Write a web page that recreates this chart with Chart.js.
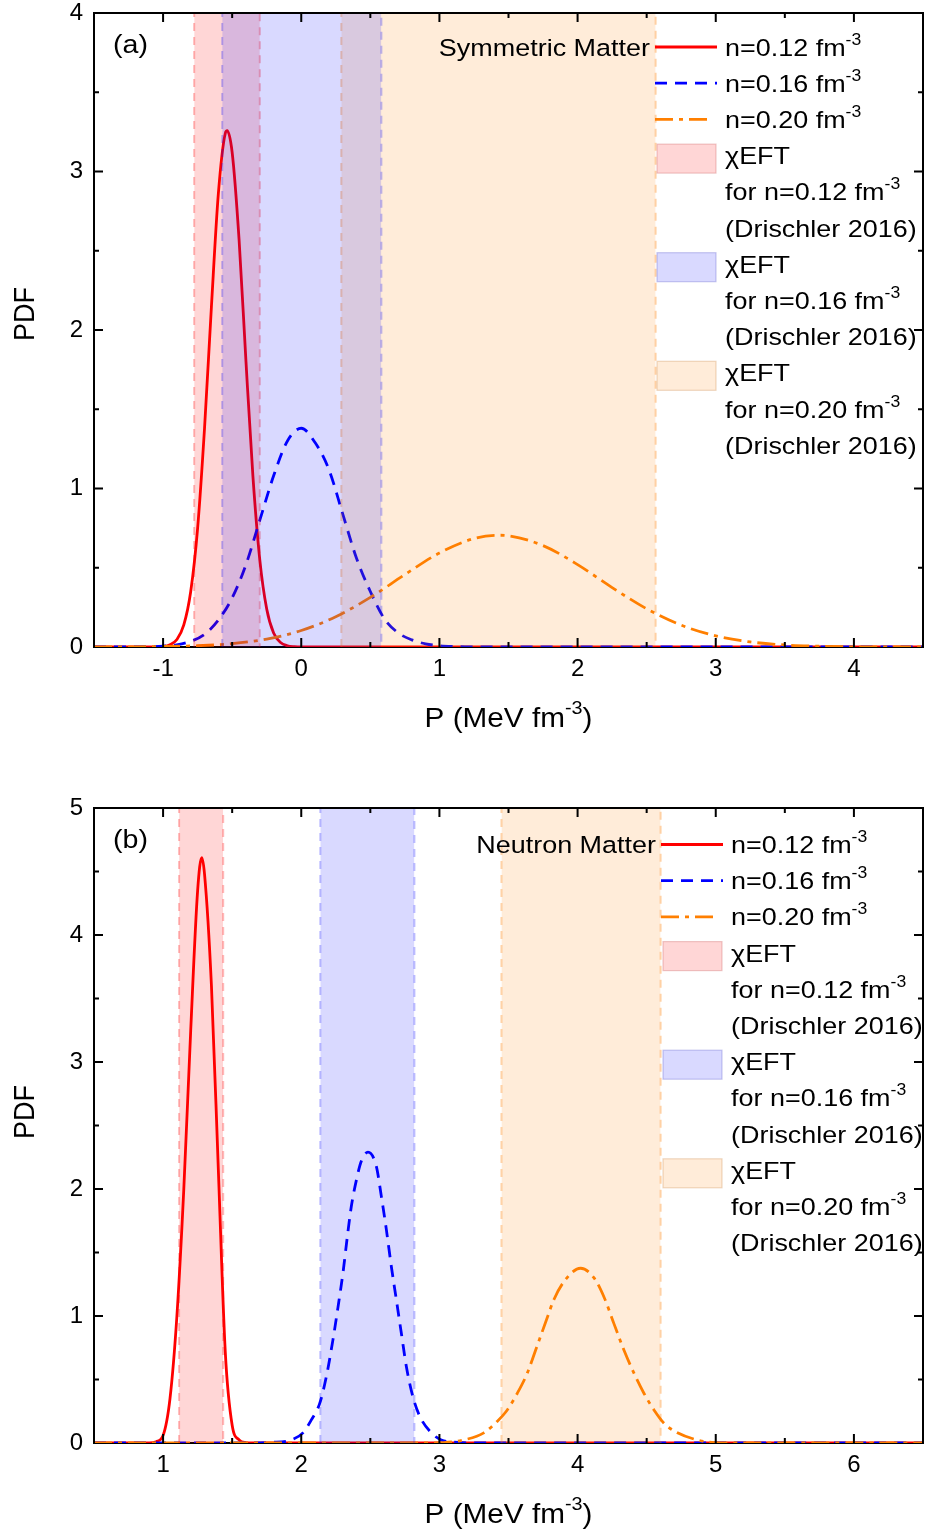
<!DOCTYPE html>
<html>
<head>
<meta charset="utf-8">
<script src="https://cdn.jsdelivr.net/npm/chart.js@4/dist/chart.umd.min.js"></script>
<style>
html,body{margin:0;padding:0;background:#fff;}
#wrap{position:relative;width:929px;height:1533px;overflow:hidden;}
canvas{position:absolute;left:0;}
</style>
</head>
<body>
<div id="wrap">
<canvas id="cA" width="929" height="766" style="top:0px"></canvas>
<canvas id="cB" width="929" height="767" style="top:766px"></canvas>
</div>
<script>
// ---------------- DATA ----------------
const densities = ['0.12', '0.16', '0.20'];

// Panel (a): symmetric matter
const xTicksA = [-1, 0, 1, 2, 3, 4];
const yTicksA = [0, 1, 2, 3, 4];
const pA_red = [-1.5, -1.1, -1.05, -1.0, -0.95, -0.9, -0.85, -0.8, -0.75, -0.7, -0.65, -0.6, -0.55, -0.536, -0.5, -0.45, -0.4, -0.35, -0.3, -0.25, -0.2, -0.15, -0.1, -0.05, 0, 1, 2, 3, 4, 4.5];
const yA_red = [0, 0, 0.001, 0.003, 0.014, 0.047, 0.139, 0.35, 0.75, 1.38, 2.15, 2.86, 3.24, 3.257, 3.12, 2.57, 1.80, 1.08, 0.55, 0.24, 0.088, 0.028, 0.008, 0.002, 0, 0, 0, 0, 0, 0];
const pA_blue = [-1.5, -1.2, -1.1, -1.0, -0.9, -0.8, -0.7, -0.6, -0.5, -0.4, -0.3, -0.2, -0.1, 0, 0.1, 0.2, 0.3, 0.4, 0.5, 0.6, 0.7, 0.8, 0.9, 1.0, 1.1, 1.2, 1.3, 2, 3, 4, 4.5];
const yA_blue = [0, 0.001, 0.002, 0.005, 0.014, 0.036, 0.08, 0.17, 0.31, 0.52, 0.80, 1.08, 1.30, 1.38, 1.29, 1.12, 0.84, 0.56, 0.35, 0.18, 0.09, 0.045, 0.02, 0.008, 0.003, 0.001, 0, 0, 0, 0, 0];
const pA_orange = [-1.5, -1.25, -1.0, -0.75, -0.5, -0.25, 0, 0.25, 0.5, 0.75, 1.0, 1.25, 1.43, 1.5, 1.75, 2.0, 2.25, 2.5, 2.75, 3.0, 3.25, 3.5, 3.75, 4.0, 4.25, 4.5];
const yA_orange = [0, 0.001, 0.003, 0.008, 0.021, 0.05, 0.104, 0.191, 0.313, 0.457, 0.593, 0.684, 0.705, 0.702, 0.640, 0.520, 0.375, 0.241, 0.138, 0.070, 0.032, 0.013, 0.005, 0.001, 0, 0];
const bandLoA = [-0.775, -0.572, 0.29];
const bandHiA = [-0.30, 0.58, 2.565];

// Panel (b): neutron matter
const xTicksB = [1, 2, 3, 4, 5, 6];
const yTicksB = [0, 1, 2, 3, 4, 5];
const pB_red = [0.5, 0.9, 0.95, 1.0, 1.05, 1.1, 1.15, 1.2, 1.25, 1.28, 1.3, 1.35, 1.4, 1.45, 1.5, 1.55, 1.6, 1.65, 6.5];
const yB_red = [0, 0, 0.01, 0.06, 0.35, 1.0, 2.0, 3.25, 4.35, 4.61, 4.48, 3.6, 2.15, 0.72, 0.14, 0.025, 0.003, 0, 0];
const pB_blue = [0.5, 1.6, 1.783, 1.927, 2.012, 2.072, 2.133, 2.181, 2.229, 2.266, 2.302, 2.333, 2.362, 2.399, 2.435, 2.483, 2.543, 2.580, 2.616, 2.652, 2.688, 2.725, 2.761, 2.809, 2.858, 2.942, 3.014, 3.135, 3.3, 6.5];
const yB_blue = [0, 0, 0.005, 0.024, 0.08, 0.18, 0.31, 0.52, 0.81, 1.07, 1.34, 1.62, 1.86, 2.07, 2.22, 2.29, 2.18, 1.94, 1.68, 1.39, 1.13, 0.86, 0.60, 0.36, 0.21, 0.08, 0.024, 0.005, 0, 0];
const pB_orange = [0.5, 2.9, 3.03, 3.176, 3.321, 3.418, 3.491, 3.563, 3.636, 3.696, 3.775, 3.829, 3.901, 4.022, 4.119, 4.191, 4.263, 4.336, 4.408, 4.481, 4.553, 4.626, 4.723, 4.867, 4.988, 5.2, 6.5];
const yB_orange = [0, 0, 0.003, 0.024, 0.08, 0.17, 0.26, 0.39, 0.55, 0.73, 0.97, 1.13, 1.27, 1.376, 1.30, 1.15, 0.94, 0.73, 0.55, 0.39, 0.26, 0.155, 0.08, 0.024, 0.003, 0, 0];
const bandLoB = [1.116, 2.138, 3.449];
const bandHiB = [1.435, 2.819, 4.601];

// ---------------- STYLE ----------------
const FONT = '"Liberation Sans", Arial, Helvetica, sans-serif';
const SX = 1.1;
const curveColors = ['#FF0000', '#0000FF', '#FF7F00'];
const curveDash = [[], [12, 8], [18, 6, 4, 6]];
const curveWidth = 2.8;
const curveOrder = [30, 20, 10];
const bandFill = ['rgba(255,0,0,0.16)', 'rgba(0,0,255,0.15)', 'rgba(255,128,0,0.15)'];
const bandEdge = ['rgba(255,0,0,0.28)', 'rgba(0,0,255,0.25)', 'rgba(255,128,0,0.32)'];
const legEdge = ['rgba(200,80,80,0.3)', 'rgba(80,80,200,0.3)', 'rgba(200,130,60,0.3)'];
const bandOrder = [5, 4, 5];

function drawRich(ctx, x, y, parts, align) {
  const widths = parts.map(p => { ctx.font = p.size + 'px ' + FONT; return ctx.measureText(p.t).width * SX; });
  const total = widths.reduce((a, b) => a + b, 0);
  let cx = align === 'right' ? x - total : (align === 'center' ? x - total / 2 : x);
  parts.forEach((p, i) => {
    ctx.save();
    ctx.font = p.size + 'px ' + FONT;
    ctx.fillStyle = '#000';
    ctx.textBaseline = 'alphabetic';
    ctx.textAlign = 'left';
    ctx.translate(cx, y - (p.rise || 0));
    ctx.scale(SX, 1);
    ctx.fillText(p.t, 0, 0);
    ctx.restore();
    cx += widths[i];
  });
}
const LEG = 24.5, SUP = 16, RISE = 11;
function legSup(main) { return [{ t: main, size: LEG }, { t: '-3', size: SUP, rise: RISE }]; }

function makePanel(canvasId, spec) {
  const datasets = [];
  spec.curves.forEach((c, i) => datasets.push({
    label: 'n=' + densities[i] + ' fm-3',
    data: c.p.map((x, k) => ({ x: x, y: c.y[k] })),
    borderColor: curveColors[i], borderWidth: curveWidth, borderDash: curveDash[i],
    pointRadius: 0, fill: false, cubicInterpolationMode: 'monotone', order: curveOrder[i]
  }));
  spec.lo.forEach((lo, i) => {
    const hi = spec.hi[i];
    datasets.push({
      label: '\u03C7EFT for n=' + densities[i] + ' fm-3 (Drischler 2016)',
      data: [{ x: lo, y: 0 }, { x: lo, y: spec.yMax }, { x: hi, y: spec.yMax }, { x: hi, y: 0 }],
      borderColor: bandEdge[i], backgroundColor: bandFill[i], borderWidth: 2, borderDash: [8, 6],
      pointRadius: 0, fill: 'origin', tension: 0, order: bandOrder[i]
    });
  });

  function minorOf(majors, min, max) {
    const out = [];
    majors.forEach(v => { [v - 0.5, v + 0.5].forEach(m => { if (m > min + 1e-6 && m < max - 1e-6 && out.indexOf(m) < 0 && majors.indexOf(m) < 0) out.push(m); }); });
    return out;
  }

  const decor = {
    id: 'decor',
    beforeDatasetsDraw(chart) {
      const { ctx, chartArea: a } = chart;
      ctx.save();
      ctx.strokeStyle = '#000'; ctx.lineWidth = 2;
      ctx.strokeRect(a.left, a.top, a.right - a.left, a.bottom - a.top);
      ctx.restore();
    },
    afterDatasetsDraw(chart) {
      const { ctx, chartArea: a } = chart;
      const xs = chart.scales.x, ys = chart.scales.y;
      ctx.save();
      ctx.strokeStyle = '#000'; ctx.lineWidth = 2;
      ctx.beginPath();
      ctx.moveTo(a.left, a.bottom + 1); ctx.lineTo(a.left, a.top); ctx.lineTo(a.right, a.top); ctx.lineTo(a.right, a.bottom + 1);
      ctx.stroke();
      const tick = (vals, len) => {
        vals.forEach(v => {
          const px = xs.getPixelForValue(v);
          ctx.beginPath();
          ctx.moveTo(px, a.bottom); ctx.lineTo(px, a.bottom - len);
          ctx.moveTo(px, a.top); ctx.lineTo(px, a.top + len);
          ctx.stroke();
        });
      };
      const ytick = (vals, len) => {
        vals.forEach(v => {
          const py = ys.getPixelForValue(v);
          ctx.beginPath();
          ctx.moveTo(a.left, py); ctx.lineTo(a.left + len, py);
          ctx.moveTo(a.right, py); ctx.lineTo(a.right - len, py);
          ctx.stroke();
        });
      };
      tick(spec.xTicks, 9);
      tick(minorOf(spec.xTicks, spec.xMin, spec.xMax), 5);
      ytick(spec.yTicks.filter(v => v > 0 && v < spec.yMax), 9);
      ytick(minorOf(spec.yTicks, 0, spec.yMax), 5);
      ctx.restore();
    },
    afterDraw(chart) {
      const { ctx, chartArea: a } = chart;
      drawRich(ctx, 113, a.top + 40, [{ t: spec.panel, size: 26 }], 'left');
      ctx.save();
      ctx.font = '27px ' + FONT; ctx.fillStyle = '#000';
      ctx.textAlign = 'center'; ctx.textBaseline = 'middle';
      ctx.translate(26, a.top + spec.yTitleOff); ctx.scale(SX, 1); ctx.rotate(-Math.PI / 2);
      ctx.fillText('PDF', 0, 0);
      ctx.restore();
      drawRich(ctx, (a.left + a.right) / 2, a.bottom + 80,
        [{ t: 'P (MeV fm', size: 27 }, { t: '-3', size: 18, rise: 13 }, { t: ')', size: 27 }], 'center');
      const lx = spec.legX, tx = spec.legX + 69;
      const rowY = i => a.top + spec.legBase + i * 36.2;
      drawRich(ctx, lx - 6, rowY(0), [{ t: spec.title, size: LEG }], 'right');
      for (let i = 0; i < 3; i++) {
        const cy = rowY(i) - 8.5;
        ctx.save();
        ctx.strokeStyle = curveColors[i]; ctx.lineWidth = curveWidth; ctx.setLineDash(curveDash[i]);
        ctx.beginPath(); ctx.moveTo(lx - 1, cy); ctx.lineTo(lx + (i === 2 ? 56 : 61), cy); ctx.stroke();
        ctx.restore();
        drawRich(ctx, tx, rowY(i), legSup('n=' + densities[i] + ' fm'), 'left');
      }
      for (let i = 0; i < 3; i++) {
        const r = 3 + i * 3;
        const cy = rowY(r) - 8.5 + 3;
        ctx.save();
        ctx.fillStyle = bandFill[i];
        ctx.fillRect(lx + 1, cy - 14.5, 59, 29);
        ctx.strokeStyle = legEdge[i]; ctx.lineWidth = 1.2;
        ctx.strokeRect(lx + 1, cy - 14.5, 59, 29);
        ctx.restore();
        drawRich(ctx, tx, rowY(r), [{ t: '\u03C7EFT', size: LEG }], 'left');
        drawRich(ctx, tx, rowY(r + 1), legSup('for n=' + densities[i] + ' fm'), 'left');
        drawRich(ctx, tx, rowY(r + 2), [{ t: '(Drischler 2016)', size: LEG }], 'left');
      }
    }
  };

  return new Chart(document.getElementById(canvasId), {
    type: 'line',
    data: { datasets: datasets },
    options: {
      responsive: false, animation: false, devicePixelRatio: 1,
      layout: { padding: { top: spec.padTop, right: 6, left: 0, bottom: 0 } },
      plugins: { legend: { display: false }, tooltip: { enabled: false } },
      scales: {
        x: {
          type: 'linear', min: spec.xMin, max: spec.xMax,
          grid: { display: false, drawTicks: false }, border: { display: false },
          ticks: { font: { size: 24, family: FONT, lineHeight: 1 }, color: '#000', padding: 10, maxRotation: 0, autoSkip: false, callback: v => String(v) },
          afterBuildTicks: s => { s.ticks = spec.xTicks.map(v => ({ value: v })); },
          afterFit: s => { s.height = spec.xAxisH; s.paddingLeft = 0; s.paddingRight = 0; }
        },
        y: {
          type: 'linear', min: 0, max: spec.yMax,
          grid: { display: false, drawTicks: false }, border: { display: false },
          ticks: { font: { size: 24, family: FONT, lineHeight: 1 }, color: '#000', padding: 11, autoSkip: false, callback: v => String(v) },
          afterBuildTicks: s => { s.ticks = spec.yTicks.map(v => ({ value: v })); },
          afterFit: s => { s.width = 94; s.paddingTop = 0; s.paddingBottom = 0; }
        }
      }
    },
    plugins: [decor]
  });
}

makePanel('cA', {
  curves: [{ p: pA_red, y: yA_red }, { p: pA_blue, y: yA_blue }, { p: pA_orange, y: yA_orange }],
  lo: bandLoA, hi: bandHiA, xTicks: xTicksA, yTicks: yTicksA,
  xMin: -1.5, xMax: 4.5, yMax: 4, padTop: 13, xAxisH: 119,
  panel: '(a)', title: 'Symmetric Matter', legX: 656, legBase: 42.5, yTitleOff: 301
});
makePanel('cB', {
  curves: [{ p: pB_red, y: yB_red }, { p: pB_blue, y: yB_blue }, { p: pB_orange, y: yB_orange }],
  lo: bandLoB, hi: bandHiB, xTicks: xTicksB, yTicks: yTicksB,
  xMin: 0.5, xMax: 6.5, yMax: 5, padTop: 42, xAxisH: 90,
  panel: '(b)', title: 'Neutron Matter', legX: 662, legBase: 45, yTitleOff: 304
});
</script>
</body>
</html>
